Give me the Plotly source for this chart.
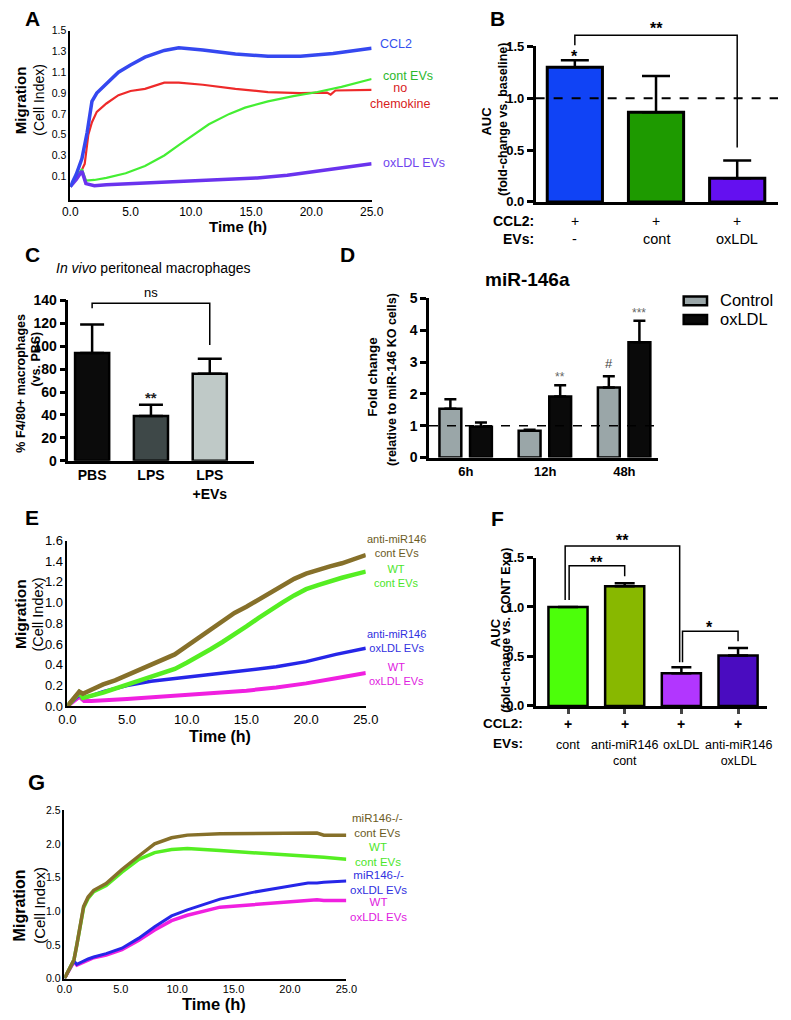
import plotly.graph_objects as go

W, H = 791, 1020
FONT = "Liberation Sans, Arial, Helvetica, sans-serif"

# ======================= DATA =======================
# Panel A: migration curves (Cell Index vs time)
tA_ccl2 = [0, 0.5, 0.97, 1.2, 1.4, 1.8, 2.2, 3.0, 4.0, 5.0, 6.2, 7.8, 9.0, 11.0, 13.7, 16.4, 19.1, 21.8, 25.0]
A_ccl2 = [0.0, 0.12, 0.27, 0.4, 0.52, 0.82, 0.9, 0.99, 1.1, 1.17, 1.245, 1.31, 1.335, 1.315, 1.276, 1.254, 1.254, 1.28, 1.33]
tA_none = [0, 0.5, 1.0, 1.2, 1.5, 1.8, 2.2, 3.0, 4.0, 5.0, 6.2, 7.8, 9.0, 11.0, 13.7, 16.4, 19.1, 21.3, 21.6, 22.0, 25.0]
A_none = [0.0, 0.08, 0.17, 0.22, 0.5, 0.62, 0.72, 0.8, 0.88, 0.92, 0.94, 1.0, 1.0, 0.98, 0.94, 0.91, 0.9, 0.905, 0.885, 0.925, 0.93]
tA_cont = [0, 0.5, 0.97, 1.3, 2.0, 3.0, 4.6, 6.2, 7.8, 9.0, 10.2, 11.5, 13.2, 14.5, 16.4, 18.5, 20.5, 22.5, 25.0]
A_cont = [0.0, 0.09, 0.17, 0.06, 0.065, 0.085, 0.13, 0.2, 0.3, 0.4, 0.5, 0.6, 0.7, 0.76, 0.82, 0.87, 0.91, 0.96, 1.035]
tA_ox = [0, 0.5, 0.97, 1.3, 2.0, 3.0, 6.2, 9.5, 12.7, 15.5, 18.0, 20.0, 22.0, 23.5, 25.0]
A_ox = [0.0, 0.07, 0.15, 0.03, 0.01, 0.02, 0.035, 0.05, 0.065, 0.085, 0.11, 0.14, 0.17, 0.2, 0.22]
A_time_ticks = [0, 5, 10, 15, 20, 25]
A_y_ticks = [0.1, 0.3, 0.5, 0.7, 0.9, 1.1, 1.3, 1.5]

# Panel B: AUC bars
B_evs = ["-", "cont", "oxLDL"]
B_ccl2 = ["+", "+", "+"]
B_auc = [1.30, 0.865, 0.228]
B_err = [0.067, 0.35, 0.172]
B_y_ticks = [0, 0.5, 1.0, 1.5]

# Panel C: in vivo peritoneal macrophages
C_groups = ["PBS", "LPS", "LPS<br>+EVs"]
C_vals = [94, 39, 76]
C_err = [25, 10, 13]
C_y_ticks = [0, 20, 40, 60, 80, 100, 120, 140]

# Panel D: miR-146a fold change
D_times = ["6h", "12h", "48h"]
D_control = [1.53, 0.84, 2.2]
D_control_err = [0.3, 0.03, 0.35]
D_oxldl = [0.97, 1.92, 3.62]
D_oxldl_err = [0.13, 0.35, 0.68]
D_y_ticks = [0, 1, 2, 3, 4, 5]

# Panel E: migration curves
tE = [0, 1.0, 1.3, 2, 3, 4, 5, 6, 7, 8, 9, 10, 11, 12, 13, 14, 15, 16, 17, 18, 19, 20, 21, 22, 23, 24, 25]
E_anti_cont = [0, 0.14, 0.12, 0.16, 0.21, 0.25, 0.30, 0.345, 0.39, 0.44, 0.50, 0.58, 0.66, 0.75, 0.83, 0.90, 0.96,
               1.03, 1.10, 1.17, 1.23, 1.28, 1.32, 1.35, 1.38, 1.42, 1.46]
E_wt_cont = [0, 0.13, 0.08, 0.10, 0.13, 0.17, 0.21, 0.25, 0.29, 0.32, 0.36, 0.42, 0.48, 0.55, 0.62, 0.69, 0.77,
             0.85, 0.93, 1.0, 1.07, 1.13, 1.17, 1.21, 1.24, 1.27, 1.30]
tE_anti_ox = [0, 1.0, 1.3, 2, 3, 5, 7, 10, 12.5, 15, 17.5, 20, 22.5, 25]
E_anti_ox = [0, 0.11, 0.08, 0.10, 0.14, 0.20, 0.24, 0.28, 0.31, 0.34, 0.38, 0.43, 0.50, 0.56]
tE_wt_ox = [0, 1.0, 1.4, 2, 5, 7.5, 10, 12.5, 15, 17.5, 20, 22.5, 25]
E_wt_ox = [0, 0.09, 0.05, 0.05, 0.07, 0.09, 0.11, 0.13, 0.15, 0.18, 0.22, 0.27, 0.32]
E_y_ticks = [0, 0.2, 0.4, 0.6, 0.8, 1.0, 1.2, 1.4, 1.6]

# Panel F: AUC bars
F_ccl2 = ["+", "+", "+", "+"]
F_evs = ["cont", "anti-miR146<br>cont", "oxLDL", "anti-miR146<br>oxLDL"]
F_auc = [1.0, 1.21, 0.33, 0.51]
F_err = [0.0, 0.03, 0.06, 0.075]
F_y_ticks = [0, 0.5, 1.0, 1.5]

# Panel G: migration curves
tG = [0, 0.85, 1.1, 1.4, 1.7, 2.1, 2.6, 3.7, 5.1, 6.6, 8.0, 9.5, 10.9, 13.8, 16.7, 19.5, 21.6, 22.4, 23.0, 25.0]
G_ko_cont = [0, 0.28, 0.5, 0.78, 1.07, 1.21, 1.31, 1.41, 1.62, 1.82, 2.0, 2.09, 2.13, 2.15, 2.15, 2.15, 2.16, 2.16, 2.13, 2.13]
G_wt_cont = [0, 0.28, 0.5, 0.77, 1.05, 1.19, 1.29, 1.38, 1.58, 1.77, 1.87, 1.915, 1.93, 1.9, 1.87, 1.84, 1.82, 1.815, 1.8, 1.77]
G_ko_ox = [0, 0.26, 0.21, 0.23, 0.26, 0.29, 0.32, 0.37, 0.45, 0.6, 0.77, 0.93, 1.02, 1.18, 1.28, 1.36, 1.42, 1.42, 1.43, 1.45]
G_wt_ox = [0, 0.25, 0.2, 0.22, 0.25, 0.28, 0.31, 0.35, 0.43, 0.57, 0.72, 0.86, 0.94, 1.06, 1.1, 1.14, 1.17, 1.17, 1.16, 1.16]
G_y_ticks = [0, 0.5, 1.0, 1.5, 2.0, 2.5]

# ======================= HELPERS =======================
def X(px):
    return min(max(px / W, 0.0), 1.0)


def Y(py):
    return min(max(1 - py / H, 0.0), 1.0)


fig = go.Figure()


def line(t, v, color, width, xa, ya):
    fig.add_trace(go.Scatter(x=t, y=v, mode="lines", line=dict(color=color, width=width),
                             xaxis=xa, yaxis=ya, showlegend=False, hoverinfo="skip"))


def bracket(xs, ys, xa, ya, width=1.5):
    fig.add_trace(go.Scatter(x=xs, y=ys, mode="lines", line=dict(color="black", width=width),
                             xaxis=xa, yaxis=ya, showlegend=False, hoverinfo="skip"))


anns = []


def ann(text, x, y, size=12, color="black", xanchor="center", yanchor="middle", angle=0,
        xref="paper", yref="paper", bold=False, yshift=0):
    if xref == "paper":
        x = X(x)
    if yref == "paper":
        y = Y(y)
    if bold:
        text = "<b>" + text + "</b>"
    anns.append(dict(text=text, x=x, y=y, xref=xref, yref=yref, showarrow=False,
                     xanchor=xanchor, yanchor=yanchor, textangle=angle, yshift=yshift,
                     font=dict(family=FONT, size=size, color=color)))


def xax(p0, p1, rng, anchor, **kw):
    d = dict(domain=[X(p0), X(p1)], range=rng, anchor=anchor, showgrid=False, zeroline=False,
             showline=True, linecolor="black", fixedrange=True)
    d.update(kw)
    return d


def yax(ptop, pbot, rng, anchor, **kw):
    d = dict(domain=[Y(pbot), Y(ptop)], range=rng, anchor=anchor, showgrid=False, zeroline=False,
             showline=True, linecolor="black", fixedrange=True)
    d.update(kw)
    return d


def err(arr):
    return dict(type="data", array=arr, arrayminus=[0] * len(arr), symmetric=False,
                color="black", thickness=2.5)


shapes = []

# ======================= PANEL A =======================
line(tA_none, A_none, "#EE2A2A", 2.2, "x", "y")
line(tA_cont, A_cont, "#44EE33", 2.2, "x", "y")
line(tA_ox, A_ox, "#6A33EE", 3.5, "x", "y")
line(tA_ccl2, A_ccl2, "#3548F0", 3.5, "x", "y")
ann("A", 24, 11, size=21, bold=True)
ann("CCL2", 380, 37, size=12.5, color="#3450EE", xanchor="left")
ann("cont EVs", 383, 69, size=12.5, color="#2DB82D", xanchor="left")
ann("no<br>chemokine", 402, 89, size=12.5, color="#D81C1C")
ann("oxLDL EVs", 383, 157, size=12.5, color="#6F45EE", xanchor="left")
ann("Migration", 12, 94, size=15, angle=-90, bold=True)
ann("(Cell Index)", 30, 93, size=14, angle=-90)
ann("Time (h)", 236, 222, size=15, bold=True)

# ======================= PANEL B =======================
B_x = list(range(len(B_evs)))
fig.add_trace(go.Bar(x=B_x, y=B_auc, width=0.68, xaxis="x2", yaxis="y2",
                     marker=dict(color=["#1043F5", "#1E9A00", "#6410F0"], line=dict(color="black", width=3)),
                     error_y=dict(err(B_err), width=14), showlegend=False, hoverinfo="skip"))
B_left_px, B_right_px = 541.7, W
B_xr = [-0.483, -0.483 + (B_right_px - B_left_px) / 83.5]
shapes.append(dict(type="line", xref="x2", yref="y2", x0=B_xr[0], x1=B_xr[1], y0=1.0, y1=1.0,
                   line=dict(color="black", width=2, dash="dash"), layer="above"))
bracket([B_x[0], B_x[0], B_x[2], B_x[2]], [1.51, 1.607, 1.607, 0.525], "x2", "y8")
ann("*", B_x[0], 1.436, size=16, xref="x2", yref="y8", bold=True, yshift=-3)
ann("**", 1, 1.70, size=16, xref="x2", yref="y8", bold=True, yshift=-3)
ann("B", 502, 11, size=21, bold=True)
ann("AUC", 491, 115, size=13, angle=-90, bold=True)
ann("(fold-change vs. baseline)", 508, 113, size=12.5, angle=-90, bold=True)
ann("CCL2:", 542, 216, size=14, xanchor="right", bold=True)
ann("EVs:", 542, 235, size=14, xanchor="right", bold=True)
for i in B_x:
    ann(B_ccl2[i], i, 216, size=14, xref="x2")
    ann(B_evs[i], i, 235, size=14.5, xref="x2")

# ======================= PANEL C =======================
C_x = list(range(len(C_groups)))
fig.add_trace(go.Bar(x=C_x, y=C_vals, width=0.58, xaxis="x3", yaxis="y3",
                     marker=dict(color=["#0B0B0B", "#3E4848", "#BFC9C7"], line=dict(color="black", width=2.5)),
                     error_y=dict(err(C_err), width=12), showlegend=False, hoverinfo="skip"))
bracket([C_x[0], C_x[0], C_x[2], C_x[2]], [133, 137.5, 137.5, 101], "x3", "y3")
ann("ns", 1, 138.5, size=13, xref="x3", yref="y3", yanchor="bottom")
ann("**", C_x[1], 57.5, size=15, xref="x3", yref="y3", bold=True, color="#222", yshift=-3)
ann("C", 24, 250, size=21, bold=True)
ann("<i>In vivo</i> peritoneal macrophages", 149, 264, size=14)
ann("% F4/80+ macrophages", 12, 381, size=12.5, angle=-90, bold=True)
ann("(vs. PBS)", 28, 357, size=12.5, angle=-90, bold=True)

# ======================= PANEL D =======================
D_x = list(range(len(D_times)))
D_w = 0.276
fig.add_trace(go.Bar(x=D_x, y=D_control, width=D_w, offset=-0.334, xaxis="x4", yaxis="y4",
                     marker=dict(color="#9AA6A8", line=dict(color="black", width=2.5)),
                     error_y=dict(err(D_control_err), width=6), showlegend=False, hoverinfo="skip"))
fig.add_trace(go.Bar(x=D_x, y=D_oxldl, width=D_w, offset=0.052, xaxis="x4", yaxis="y4",
                     marker=dict(color="#0A0A0A", line=dict(color="black", width=2.5)),
                     error_y=dict(err(D_oxldl_err), width=6), showlegend=False, hoverinfo="skip"))
D_xr = [-0.466, 2.43]
shapes.append(dict(type="line", xref="x4", yref="y4", x0=D_xr[0], x1=D_xr[1], y0=1.0, y1=1.0,
                   line=dict(color="black", width=1.6, dash="dash"), layer="above"))
c_ctrl = -0.334 + D_w / 2
c_ox = 0.052 + D_w / 2
ann("**", D_x[1] + c_ox, 2.58, size=12, xref="x4", yref="y4", color="#666", yshift=-2)
ann("#", D_x[2] + c_ctrl, 2.94, size=13, xref="x4", yref="y4", color="#444")
ann("***", D_x[2] + c_ox, 4.6, size=12, xref="x4", yref="y4", color="#666", yshift=-2)
ann("D", 348, 250, size=21, bold=True)
ann("miR-146a", 533, 276, size=19, bold=True)
ann("Fold change", 373, 375, size=13.5, angle=-90, bold=True)
ann("(relative to miR-146 KO cells)", 394, 378, size=12.5, angle=-90, bold=True)
shapes.append(dict(type="rect", xref="paper", yref="paper", x0=X(694), x1=X(718), y0=Y(302), y1=Y(293),
                   fillcolor="#9AA6A8", line=dict(color="black", width=2.5)))
shapes.append(dict(type="rect", xref="paper", yref="paper", x0=X(694), x1=X(718), y0=Y(321), y1=Y(312),
                   fillcolor="#0A0A0A", line=dict(color="black", width=2.5)))
ann("Control", 729, 297, size=16.5, xanchor="left")
ann("oxLDL", 729, 316, size=16.5, xanchor="left")

# ======================= PANEL E =======================
line(tE_wt_ox, E_wt_ox, "#F020E0", 4, "x5", "y5")
line(tE_anti_ox, E_anti_ox, "#2626E8", 3.5, "x5", "y5")
line(tE, E_wt_cont, "#55EE22", 4.5, "x5", "y5")
line(tE, E_anti_cont, "#86702A", 4.5, "x5", "y5")
ann("E", 24, 518, size=21, bold=True)
ann("anti-miR146<br>cont EVs", 399, 547, size=11, color="#6B5B1E")
ann("WT<br>cont EVs", 399, 577, size=11, color="#4CE62A")
ann("anti-miR146<br>oxLDL EVs", 399, 643, size=11, color="#3030E0")
ann("WT<br>oxLDL EVs", 399, 677, size=11, color="#E020E0")
ann("Migration", 12, 616, size=15.5, angle=-90, bold=True)
ann("(Cell Index)", 30, 616, size=14.5, angle=-90)
ann("Time (h)", 217, 740, size=16, bold=True)

# ======================= PANEL F =======================
F_x = list(range(len(F_evs)))
fig.add_trace(go.Bar(x=F_x, y=F_auc, width=0.69, xaxis="x6", yaxis="y6",
                     marker=dict(color=["#4CFF0A", "#88B800", "#B236FF", "#4A0CC0"], line=dict(color="black", width=2.5)),
                     error_y=dict(err(F_err), width=10), showlegend=False, hoverinfo="skip"))
bracket([F_x[0] - 0.05, F_x[0] - 0.05, F_x[2] - 0.03, F_x[2] - 0.03], [1.07, 1.617, 1.617, 0.44], "x6", "y9")
bracket([F_x[0] + 0.02, F_x[0] + 0.02, F_x[1], F_x[1]], [1.07, 1.417, 1.417, 1.31], "x6", "y9")
bracket([F_x[2] + 0.02, F_x[2] + 0.02, F_x[3], F_x[3]], [0.44, 0.754, 0.754, 0.654], "x6", "y9")
ann("**", 0.97, 1.70, size=16, xref="x6", yref="y9", bold=True, yshift=-3)
ann("**", 0.5, 1.48, size=16, xref="x6", yref="y9", bold=True, yshift=-3)
ann("*", 2.5, 0.82, size=16, xref="x6", yref="y9", bold=True, yshift=-3)
ann("F", 502, 519, size=21, bold=True)
ann("AUC", 500, 635, size=13, angle=-90, bold=True)
ann("(fold-change vs. CONT Exo)", 511, 632, size=12.5, angle=-90, bold=True)
ann("CCL2:", 531, 727, size=13.5, xanchor="right", bold=True)
ann("EVs:", 531, 747, size=13.5, xanchor="right", bold=True)
for i in F_x:
    ann(F_ccl2[i], i, 727, size=14, xref="x6", bold=True)
    ann(F_evs[i], i, 740, size=12.5, xref="x6", yanchor="top")

# ======================= PANEL G =======================
line(tG, G_wt_ox, "#F020E0", 3.5, "x7", "y7")
line(tG, G_ko_ox, "#2626E8", 3, "x7", "y7")
line(tG, G_wt_cont, "#55EE22", 3.5, "x7", "y7")
line(tG, G_ko_cont, "#86702A", 3.5, "x7", "y7")
ann("G", 28, 787, size=22, bold=True)
ann("miR146-/-<br>cont EVs", 379, 831, size=11.5, color="#6B5B1E")
ann("WT<br>cont EVs", 380, 860, size=11.5, color="#4CE62A")
ann("miR146-/-<br>oxLDL EVs", 380, 888, size=11.5, color="#3030E0")
ann("WT<br>oxLDL EVs", 380, 916, size=11.5, color="#E020E0")
ann("Migration", 11, 912, size=16, angle=-90, bold=True)
ann("(Cell Index)", 32, 912, size=15, angle=-90)
ann("Time (h)", 211, 1012, size=16.5, bold=True)

# ======================= LAYOUT =======================
bold_tick = lambda s: dict(family=FONT, size=s, color="black", weight="bold")
reg_tick = lambda s: dict(family=FONT, size=s, color="black")
ytick_style = dict(ticks="outside", ticklen=6, tickwidth=2.5, tickcolor="black", linewidth=2.5)

B_top, B_bot, B_auxtop = 39, 197, 8
F_top, F_bot, F_auxtop = 558.3, 709, 515

fig.update_layout(
    width=W, height=H, margin=dict(l=0, r=0, t=0, b=0),
    paper_bgcolor="white", plot_bgcolor="rgba(0,0,0,0)",
    showlegend=False, barmode="overlay",
    font=dict(family=FONT, color="black"),
    annotations=anns, shapes=shapes,
    xaxis=xax(63, 373, [0, 25], "y", linewidth=1.5, ticks="", tickvals=A_time_ticks, tickformat=".1f",
              tickfont=reg_tick(12)),
    yaxis=yax(23, 195, [-0.127, 1.5], "x", linewidth=1.5, ticks="", tickvals=A_y_ticks, tickformat=".1f",
              tickfont=reg_tick(10.5)),
    xaxis2=xax(B_left_px, B_right_px, B_xr, "y2", linewidth=2.5, ticks="", showticklabels=False),
    yaxis2=yax(B_top, B_bot, [0, 1.5], "x2", tickvals=B_y_ticks, tickformat=".1f", tickfont=bold_tick(13),
               **ytick_style),
    yaxis8=dict(domain=[Y(B_bot), Y(B_auxtop)], range=[0, 1.5 * (B_bot - B_auxtop) / (B_bot - B_top)],
                anchor="x2", visible=False, fixedrange=True),
    xaxis3=xax(61, 252, [-0.405, 2.752], "y3", linewidth=2.5, ticks="", tickvals=C_x, ticktext=C_groups,
               tickfont=bold_tick(14)),
    yaxis3=yax(297, 460, [0, 140], "x3", tickvals=C_y_ticks, tickfont=bold_tick(14), **ytick_style),
    xaxis4=xax(432, 668, D_xr, "y4", linewidth=2.5, ticks="", tickvals=D_x, ticktext=D_times,
               tickfont=bold_tick(13)),
    yaxis4=yax(295, 456.7, [0, 5], "x4", tickvals=D_y_ticks, tickfont=bold_tick(14), **ytick_style),
    xaxis5=xax(60, 367, [0, 25], "y5", linewidth=1.5, ticks="", tickvals=A_time_ticks, tickformat=".1f",
               tickfont=reg_tick(13)),
    yaxis5=yax(541, 709.3, [0, 1.6], "x5", linewidth=1.5, ticks="", tickvals=E_y_ticks, tickformat=".1f",
               tickfont=reg_tick(13)),
    xaxis6=xax(541.7, 780, [-0.571, 3.516], "y6", linewidth=2.5, ticks="outside", ticklen=5, tickwidth=2.5,
               tickvals=F_x, showticklabels=False),
    yaxis6=yax(F_top, F_bot, [0, 1.5], "x6", tickvals=F_y_ticks, tickformat=".1f", tickfont=bold_tick(13),
               **ytick_style),
    yaxis9=dict(domain=[Y(F_bot), Y(F_auxtop)], range=[0, 1.5 * (F_bot - F_auxtop) / (F_bot - F_top)],
                anchor="x6", visible=False, fixedrange=True),
    xaxis7=xax(57, 347, [0, 25], "y7", linewidth=1.5, ticks="", tickvals=A_time_ticks, tickformat=".1f",
               tickfont=reg_tick(11)),
    yaxis7=yax(815, 986, [0, 2.5], "x7", linewidth=1.5, ticks="", tickvals=G_y_ticks, tickformat=".1f",
               tickfont=reg_tick(10.5)),
)

fig.write_html("out.html", config={"displayModeBar": False},
               post_script="document.body.style.margin='0';document.body.style.overflow='hidden';")
